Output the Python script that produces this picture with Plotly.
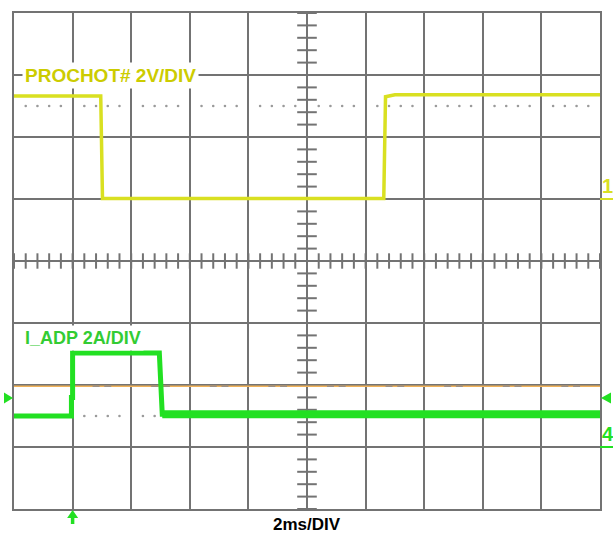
import plotly.graph_objects as go

# ---- scope settings -------------------------------------------------------
MS_PER_DIV = 2.0          # horizontal scale
N_XDIV, N_YDIV = 10, 8    # graticule size
VOLT_PER_DIV = 2.0        # channel 1 (PROCHOT#)
AMP_PER_DIV = 2.0         # channel 4 (I_ADP)
CH1_GROUND_DIV = 1.0      # channel 1 zero marker, divisions from centre
CH4_GROUND_DIV = -3.0     # channel 4 zero marker, divisions from centre

# ---- captured waveforms ---------------------------------------------------
t_prochot_ms = [0.0, 2.96, 3.02, 12.62, 12.68, 13.0, 20.0]
v_prochot = [3.32, 3.32, 0.02, 0.02, 3.30, 3.36, 3.36]

t_iadp_ms = [0.0, 1.96, 1.96, 2.00, 2.00, 4.96, 5.06, 20.0]
i_iadp = [1.0, 1.0, 1.60, 1.60, 3.03, 3.03, 1.06, 1.06]

trigger_time_ms = 2.0
trigger_level_a = 1.58
ref_level_a = 1.96

# ---- colours --------------------------------------------------------------
GRID = "#737373"
YEL_TRACE = "#d9e021"
YEL_TEXT = "#cccc00"
GRN_TRACE = "#22e022"
GRN_TEXT = "#33cc33"
ORANGE = "#f2b35a"

# plot-area size in pixels (for marker geometry outside the graticule)
PLOT_W, PLOT_H = 586, 496


def ch1_div(v):
    return [CH1_GROUND_DIV + x / VOLT_PER_DIV for x in v]


def ch4_div(a):
    return [CH4_GROUND_DIV + x / AMP_PER_DIV for x in a]


x_max = N_XDIV * MS_PER_DIV


def px_x(t_ms, dx=0.0):
    """time -> paper x, with an optional pixel offset"""
    return t_ms / x_max + dx / PLOT_W


def px_y(div, dy=0.0):
    """divisions -> paper y, with an optional pixel offset (up is +)"""
    return (div + N_YDIV / 2) / N_YDIV + dy / PLOT_H


minor_x = [(d + k / 5) * MS_PER_DIV for d in range(N_XDIV) for k in range(1, 5)]
minor_x_all = [(d + k / 5) * MS_PER_DIV for d in range(N_XDIV) for k in range(0, 5)] + [x_max]
minor_y_all = [-N_YDIV / 2 + k / 5 for k in range(N_YDIV * 5 + 1)]

fig = go.Figure()

# dotted reference rows
for row in (2.5, -2.5):
    fig.add_trace(go.Scatter(
        x=minor_x, y=[row] * len(minor_x), mode="markers",
        marker=dict(symbol="circle", size=2.6, color="#9a9a9a"),
        hoverinfo="skip", showlegend=False))

# centre-axis tick marks
fig.add_trace(go.Scatter(
    x=minor_x_all, y=[0] * len(minor_x_all), mode="markers",
    marker=dict(symbol="line-ns", size=11, line=dict(width=2, color=GRID)),
    hoverinfo="skip", showlegend=False))
fig.add_trace(go.Scatter(
    x=[N_XDIV / 2 * MS_PER_DIV] * len(minor_y_all), y=minor_y_all, mode="markers",
    marker=dict(symbol="line-ew", size=14, line=dict(width=2, color=GRID)),
    hoverinfo="skip", showlegend=False))

# reference level line
ref_div = ch4_div([ref_level_a])[0]
fig.add_trace(go.Scatter(
    x=[0, x_max], y=[ref_div, ref_div], mode="lines",
    line=dict(color=ORANGE, width=1.6), hoverinfo="skip", showlegend=False))
ref_marks = [(d + k / 5) * MS_PER_DIV for d in range(1, N_XDIV) for k in (2, 3)]
fig.add_trace(go.Scatter(
    x=ref_marks, y=[ref_div] * len(ref_marks), mode="markers",
    marker=dict(symbol="line-ew", size=5, line=dict(width=1.5, color="#a09080")),
    hoverinfo="skip", showlegend=False))

# channel 1: PROCHOT#
fig.add_trace(go.Scatter(
    x=t_prochot_ms, y=ch1_div(v_prochot), mode="lines",
    line=dict(color=YEL_TRACE, width=3.5), hoverinfo="skip", showlegend=False))

# channel 4: I_ADP
fig.add_trace(go.Scatter(
    x=t_iadp_ms, y=ch4_div(i_iadp), mode="lines",
    line=dict(color=GRN_TRACE, width=5), hoverinfo="skip", showlegend=False))
fig.add_trace(go.Scatter(
    x=t_iadp_ms[-2:], y=ch4_div(i_iadp[-2:]), mode="lines",
    line=dict(color=GRN_TRACE, width=8), hoverinfo="skip", showlegend=False))

shapes = []

# trigger level arrows on both edges
trig_div = ch4_div([trigger_level_a])[0]
yc = px_y(trig_div)
h = 5.5 / PLOT_H
shapes.append(dict(
    type="path", xref="paper", yref="paper", line=dict(width=0), fillcolor=GRN_TRACE,
    path=f"M {px_x(0, -10)},{yc - h} L {px_x(0, -1)},{yc} L {px_x(0, -10)},{yc + h} Z"))
shapes.append(dict(
    type="path", xref="paper", yref="paper", line=dict(width=0), fillcolor=GRN_TRACE,
    path=f"M {px_x(x_max, 11)},{yc - h} L {px_x(x_max, 1)},{yc} L {px_x(x_max, 11)},{yc + h} Z"))

# trigger position arrow below the graticule
xc = px_x(trigger_time_ms)
w = 5.5 / PLOT_W
y_tip = px_y(-N_YDIV / 2, -1)
y_base = px_y(-N_YDIV / 2, -9)
shapes.append(dict(
    type="path", xref="paper", yref="paper", line=dict(width=0), fillcolor=GRN_TRACE,
    path=f"M {xc - w},{y_base} L {xc},{y_tip} L {xc + w},{y_base} Z"))
shapes.append(dict(
    type="line", xref="paper", yref="paper", x0=xc, x1=xc,
    y0=y_base, y1=px_y(-N_YDIV / 2, -15), line=dict(color=GRN_TRACE, width=3.5)))

# channel ground markers on the right edge
for gdiv, col, label in ((CH1_GROUND_DIV, YEL_TRACE, "1"), (CH4_GROUND_DIV, GRN_TRACE, "4")):
    shapes.append(dict(
        type="line", xref="paper", yref="paper",
        x0=px_x(x_max), x1=px_x(x_max, 14), y0=px_y(gdiv), y1=px_y(gdiv),
        line=dict(color=col, width=2)))
    fig.add_annotation(
        x=px_x(x_max, 1), y=px_y(gdiv, 1), xref="paper", yref="paper",
        xanchor="left", yanchor="bottom", showarrow=False, text=f"<b>{label}</b>",
        font=dict(family="Liberation Sans", size=20, color=col), borderpad=0)

fig.update_layout(shapes=shapes)

# channel labels
fig.add_annotation(
    x=0.26, y=3.0, xanchor="left", yanchor="middle", showarrow=False,
    text="<b>PROCHOT# 2V/DIV</b>", bgcolor="white", borderpad=2,
    font=dict(family="Liberation Sans", size=19, color=YEL_TEXT))
fig.add_annotation(
    x=0.27, y=-1.24, xanchor="left", yanchor="middle", showarrow=False,
    text="<b>I_ADP 2A/DIV</b>", bgcolor="white", borderpad=2,
    font=dict(family="Liberation Sans", size=18, color=GRN_TEXT))
fig.add_annotation(
    x=0.5, y=-0.032, xref="paper", yref="paper", xanchor="center", yanchor="middle",
    showarrow=False, text="<b>2ms/DIV</b>",
    font=dict(family="Liberation Sans", size=17, color="black"))

axis_style = dict(
    showgrid=True, gridcolor=GRID, gridwidth=2, zeroline=False,
    showticklabels=False, ticks="", showline=True, linecolor=GRID,
    linewidth=2, mirror=True, fixedrange=True)

fig.update_layout(
    width=613, height=536,
    margin=dict(l=14, r=13, t=13, b=27),
    paper_bgcolor="white", plot_bgcolor="white",
    xaxis=dict(range=[0, x_max], dtick=MS_PER_DIV, **axis_style),
    yaxis=dict(range=[-N_YDIV / 2, N_YDIV / 2], dtick=1, **axis_style),
)

fig.write_html("out.html")
